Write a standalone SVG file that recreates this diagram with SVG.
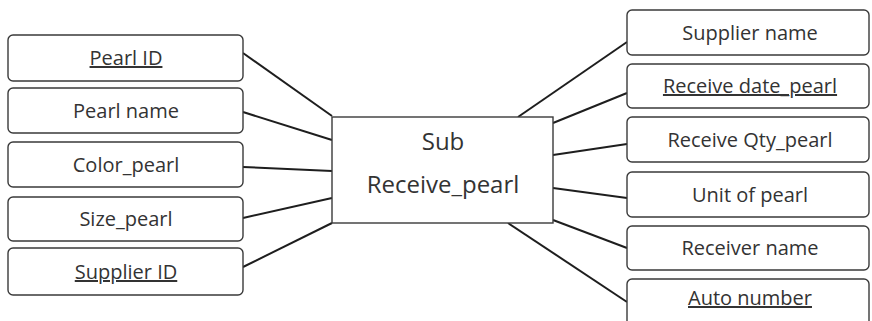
<svg xmlns="http://www.w3.org/2000/svg" width="872" height="321" viewBox="0 0 872 321">
<style>
.box{fill:#fff;stroke:#3a3a3a;stroke-width:1.4}
.t{font-family:"Open Sans","Liberation Sans",sans-serif;font-size:20px;fill:#333;text-anchor:middle}
.u{text-decoration:underline}
.c{font-size:24px}
#connectors line{stroke:#1e1e1e;stroke-width:2}
</style>
<rect width="872" height="321" fill="#fff"/>
<g id="connectors">
<line x1="243" y1="53" x2="332" y2="116"/>
<line x1="243" y1="112" x2="332" y2="140"/>
<line x1="243" y1="167" x2="332" y2="171"/>
<line x1="243" y1="218" x2="332" y2="198"/>
<line x1="243" y1="267" x2="332" y2="223"/>
<line x1="518" y1="117" x2="627" y2="42"/>
<line x1="553" y1="123" x2="627" y2="93"/>
<line x1="553" y1="155" x2="627" y2="144"/>
<line x1="553" y1="188" x2="627" y2="198"/>
<line x1="553" y1="220" x2="627" y2="248"/>
<line x1="508" y1="223" x2="627" y2="302"/>
</g>
<g id="center">
<rect class="box" x="332" y="117" width="221" height="106"/>
<text class="t c" x="443" y="150">Sub</text>
<text class="t c" x="443" y="193">Receive_pearl</text>
</g>
<g id="pearl-id"><rect class="box" x="8" y="35" width="235" height="46" rx="5"/><text class="t u" x="126" y="65">Pearl ID</text></g>
<g id="pearl-name"><rect class="box" x="8" y="88" width="235" height="45" rx="5"/><text class="t" x="126" y="118">Pearl name</text></g>
<g id="color-pearl"><rect class="box" x="8" y="142" width="235" height="45" rx="5"/><text class="t" x="126" y="172">Color_pearl</text></g>
<g id="size-pearl"><rect class="box" x="8" y="197" width="235" height="44" rx="5"/><text class="t" x="126" y="226">Size_pearl</text></g>
<g id="supplier-id"><rect class="box" x="8" y="248" width="235" height="47" rx="5"/><text class="t u" x="126" y="279">Supplier ID</text></g>
<g id="supplier-name"><rect class="box" x="627" y="10" width="242" height="45" rx="5"/><text class="t" x="750" y="40">Supplier name</text></g>
<g id="receive-date"><rect class="box" x="627" y="64" width="242" height="44" rx="5"/><text class="t u" x="750" y="93">Receive date_pearl</text></g>
<g id="receive-qty"><rect class="box" x="627" y="117" width="242" height="45" rx="5"/><text class="t" x="750" y="147">Receive Qty_pearl</text></g>
<g id="unit"><rect class="box" x="627" y="172" width="242" height="45" rx="5"/><text class="t" x="750" y="202">Unit of pearl</text></g>
<g id="receiver-name"><rect class="box" x="627" y="226" width="242" height="44" rx="5"/><text class="t" x="750" y="255">Receiver name</text></g>
<g id="auto-number"><rect class="box" x="627" y="279" width="242" height="50" rx="5"/><text class="t u" x="750" y="305">Auto number</text></g>
</svg>
